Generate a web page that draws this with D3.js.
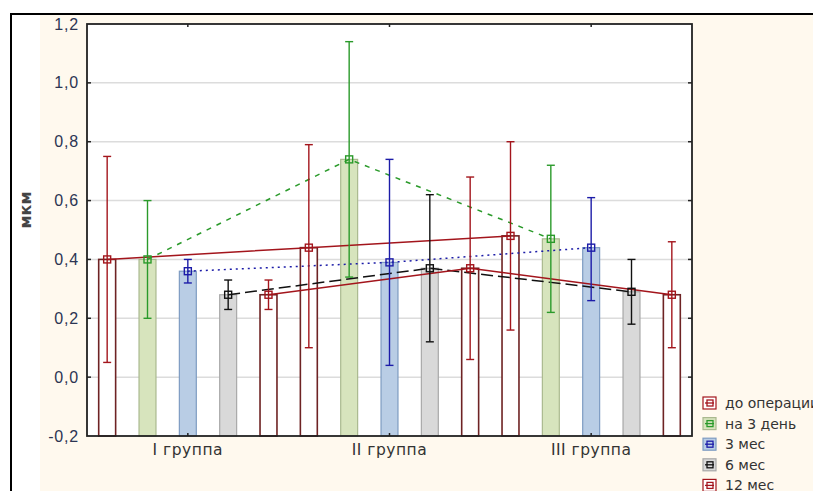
<!DOCTYPE html>
<html><head><meta charset="utf-8">
<script src="https://cdn.jsdelivr.net/npm/d3@7"></script>
<style>html,body{margin:0;padding:0;background:#fff;overflow:hidden}</style>
</head><body>
<svg id="chart" width="813" height="491"></svg>
<script>
// ---- data ----
const groups = ["I группа", "II группа", "III группа"];
const seriesNames = ["до операции", "на 3 день", "3 мес", "6 мес", "12 мес"];
const meanDoOp = [0.40, 0.44, 0.48];
const meanDay3 = [0.40, 0.74, 0.47];
const mean3m   = [0.36, 0.39, 0.44];
const mean6m   = [0.28, 0.37, 0.29];
const mean12m  = [0.28, 0.37, 0.28];
const loDoOp = [0.05, 0.10, 0.16], hiDoOp = [0.75, 0.79, 0.80];
const loDay3 = [0.20, 0.34, 0.22], hiDay3 = [0.60, 1.14, 0.72];
const lo3m   = [0.32, 0.04, 0.26], hi3m   = [0.40, 0.74, 0.61];
const lo6m   = [0.23, 0.12, 0.18], hi6m   = [0.33, 0.62, 0.40];
const lo12m  = [0.23, 0.06, 0.10], hi12m  = [0.33, 0.68, 0.46];
const yTicks = [-0.2, 0.0, 0.2, 0.4, 0.6, 0.8, 1.0, 1.2];
const yTitle = "мкм";

// ---- styles ----
const styles = [
  {fill: "#ffffff", outline: "#6e2324", line: "#a3151c", dash: null, w: 1.5},
  {fill: "#d7e4bd", outline: "#aab98f", line: "#2a9a2a", dash: "5,6", w: 1.5},
  {fill: "#b9cde5", outline: "#7e9cc2", line: "#1c1ca8", dash: "2,4", w: 1.5},
  {fill: "#d9d9d9", outline: "#a8a8a8", line: "#111111", dash: "12,5", w: 1.5},
  {fill: "#ffffff", outline: "#6e2324", line: "#a3151c", dash: null, w: 1.5}
];
const means = [meanDoOp, meanDay3, mean3m, mean6m, mean12m];
const lows = [loDoOp, loDay3, lo3m, lo6m, lo12m];
const highs = [hiDoOp, hiDay3, hi3m, hi6m, hi12m];
const series = seriesNames.map((name, i) => ({
  name, i, style: styles[i],
  pts: groups.map((g, j) => ({g, m: means[i][j], lo: lows[i][j], hi: highs[i][j]}))
}));

const svg = d3.select("#chart");
const L = 87, R = 692, T = 24, B = 436;

// background panels
svg.append("rect").attr("x", 40).attr("y", 15).attr("width", 813 - 40).attr("height", 491 - 15).attr("fill", "#fff9ee");
svg.append("line").attr("x1", 11).attr("x2", 813).attr("y1", 14).attr("y2", 14).attr("stroke", "#000").attr("stroke-width", 2);
svg.append("line").attr("x1", 11).attr("x2", 11).attr("y1", 13).attr("y2", 491).attr("stroke", "#000").attr("stroke-width", 2);
svg.append("rect").attr("x", L).attr("y", T).attr("width", R - L).attr("height", B - T).attr("fill", "#fff");

const x = d3.scaleBand().domain(groups).range([L, R]).padding(0);
const xs = d3.scaleBand().domain(d3.range(seriesNames.length)).range([0, x.bandwidth()]).padding(0);
const y = d3.scaleLinear().domain([-0.2, 1.2]).range([B, T]);
const cx = (g, i) => x(g) + xs(i) + xs.bandwidth() / 2;
const barW = xs.bandwidth() * 0.42;

// gridlines
svg.append("g").selectAll("line").data(yTicks.filter(t => t > -0.2 && t < 1.2)).join("line")
  .attr("x1", L).attr("x2", R).attr("y1", d => y(d)).attr("y2", d => y(d))
  .attr("stroke", "#dcdcdc").attr("stroke-width", 1.5);

// bars
series.forEach(s => {
  svg.append("g").selectAll("rect").data(s.pts).join("rect")
    .attr("x", d => cx(d.g, s.i) - barW / 2)
    .attr("y", d => y(d.m))
    .attr("width", barW)
    .attr("height", d => y(-0.2) - y(d.m))
    .attr("fill", s.style.fill)
    .attr("stroke", s.style.outline)
    .attr("stroke-width", s.style.fill === "#ffffff" ? 1.6 : 1.2);
});

// connecting lines
const lineGen = d3.line().x(d => d[0]).y(d => d[1]);
series.forEach(s => {
  svg.append("path")
    .attr("d", lineGen(s.pts.map(d => [cx(d.g, s.i), y(d.m)])))
    .attr("fill", "none").attr("stroke", s.style.line)
    .attr("stroke-width", s.style.w)
    .attr("stroke-dasharray", s.style.dash);
});

// error bars + markers
series.forEach(s => {
  const g = svg.append("g").attr("stroke", s.style.line).attr("stroke-width", 1.4).attr("fill", "none");
  s.pts.forEach(d => {
    const c = cx(d.g, s.i);
    g.append("line").attr("x1", c).attr("x2", c).attr("y1", y(d.lo)).attr("y2", y(d.hi));
    g.append("line").attr("x1", c - 4).attr("x2", c + 4).attr("y1", y(d.lo)).attr("y2", y(d.lo));
    g.append("line").attr("x1", c - 4).attr("x2", c + 4).attr("y1", y(d.hi)).attr("y2", y(d.hi));
    g.append("rect").attr("x", c - 3.5).attr("y", y(d.m) - 3.5).attr("width", 7).attr("height", 7);
  });
});

// plot frame
svg.append("rect").attr("x", L).attr("y", T).attr("width", R - L).attr("height", B - T)
  .attr("fill", "none").attr("stroke", "#222").attr("stroke-width", 1.8);

// ticks
const tk = svg.append("g").attr("stroke", "#222").attr("stroke-width", 1.5);
yTicks.filter(t => t > -0.2 && t < 1.2).forEach(t => {
  tk.append("line").attr("x1", L).attr("x2", L + 4).attr("y1", y(t)).attr("y2", y(t));
  tk.append("line").attr("x1", R - 4).attr("x2", R).attr("y1", y(t)).attr("y2", y(t));
});
groups.forEach(gname => {
  const c = x(gname) + x.bandwidth() / 2;
  tk.append("line").attr("x1", c).attr("x2", c).attr("y1", T).attr("y2", T + 3);
  tk.append("line").attr("x1", c).attr("x2", c).attr("y1", B - 3).attr("y2", B);
});

// y tick labels
svg.append("g").selectAll("text").data(yTicks).join("text")
  .attr("x", 79).attr("y", d => y(d) + 5.5)
  .attr("text-anchor", "end")
  .attr("font-family", "Liberation Sans, Arial, sans-serif").attr("font-size", 16)
  .attr("letter-spacing", 0.8)
  .attr("fill", "#2c3553")
  .text(d => d3.format(".1f")(d).replace(".", ",").replace("−", "-"));

// x labels
svg.append("g").selectAll("text").data(groups).join("text")
  .attr("x", d => x(d) + x.bandwidth() / 2).attr("y", 455)
  .attr("text-anchor", "middle")
  .attr("font-family", "DejaVu Sans, Verdana, sans-serif").attr("font-size", 15.5)
  .attr("letter-spacing", 0.5)
  .attr("fill", "#333").text(d => d);

// y title
svg.append("text").attr("transform", "translate(31,210) rotate(-90)")
  .attr("text-anchor", "middle")
  .attr("font-family", "DejaVu Sans, Verdana, sans-serif").attr("font-size", 16)
  .attr("font-weight", "bold")
  .attr("fill", "#444").text(yTitle);

// legend
const lg = svg.append("g");
series.forEach((s, k) => {
  const cy = 403 + k * 20.6;
  const bx = 703;
  lg.append("rect").attr("x", bx).attr("y", cy - 6).attr("width", 13).attr("height", 12)
    .attr("fill", s.style.fill).attr("stroke", s.style.fill === "#ffffff" ? s.style.line : s.style.outline).attr("stroke-width", 1.2);
  lg.append("line").attr("x1", bx + 2).attr("x2", bx + 11).attr("y1", cy).attr("y2", cy)
    .attr("stroke", s.style.line).attr("stroke-width", 1.3);
  lg.append("rect").attr("x", bx + 4).attr("y", cy - 3).attr("width", 6).attr("height", 6)
    .attr("fill", "none").attr("stroke", s.style.line).attr("stroke-width", 1.3);
  lg.append("text").attr("x", 725).attr("y", cy + 5)
    .attr("font-family", "DejaVu Sans, Verdana, sans-serif").attr("font-size", 14)
    .attr("fill", "#333").text(s.name);
});
</script>
</body></html>
